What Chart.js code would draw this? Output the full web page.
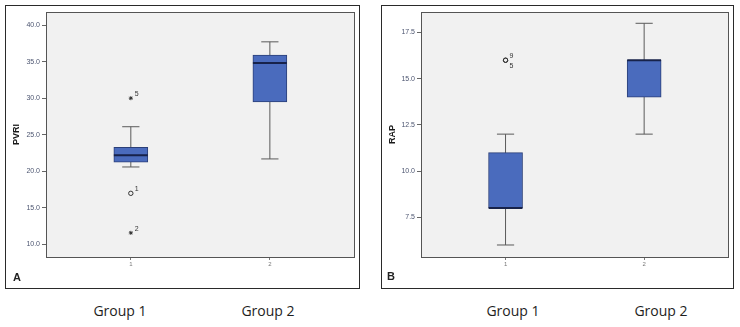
<!DOCTYPE html>
<html>
<head>
<meta charset="utf-8">
<script src="https://cdn.jsdelivr.net/npm/chart.js@4"></script>
<style>
  body { margin: 0; background: #fff; width: 740px; height: 327px; position: relative; overflow: hidden; }
  .panel { position: absolute; border: 1px solid #2a2a2a; }
  .panel canvas { display: block; }
  .tag { position: absolute; font: bold 11px "Liberation Sans", Arial, sans-serif; color: #222; line-height: 11px; }
  .grp { position: absolute; width: 100px; text-align: center; font: 14px "Open Sans", sans-serif; color: #1e1e1e; line-height: 14px; }
</style>
</head>
<body>
<div class="panel" style="left:5px; top:5px;"><canvas id="chartA" width="353" height="282"></canvas></div>
<div class="panel" style="left:381px; top:5px;"><canvas id="chartB" width="351" height="282"></canvas></div>
<div class="tag" style="left:13px; top:272px;">A</div>
<div class="tag" style="left:387px; top:271px;">B</div>
<div class="grp" style="left:70px; top:304px;">Group 1</div>
<div class="grp" style="left:218px; top:304px;">Group 2</div>
<div class="grp" style="left:463px; top:304px;">Group 1</div>
<div class="grp" style="left:611px; top:304px;">Group 2</div>
<script>
const groups = [1, 2];

// A - PVRI
const pvriMin = [20.6, 21.7];
const pvriQ1 = [21.25, 29.5];
const pvriMedian = [22.2, 34.8];
const pvriQ3 = [23.3, 35.9];
const pvriMax = [26.1, 37.7];
const pvriOutGroup = [1, 1, 1];
const pvriOutValue = [30.0, 17.0, 11.6];
const pvriOutKind = ['extreme', 'outlier', 'extreme'];
const pvriOutCase = ['5', '1', '2'];
const pvriTicks = [10, 15, 20, 25, 30, 35, 40];

// B - RAP
const rapMin = [6.0, 12.0];
const rapQ1 = [8.0, 14.0];
const rapMedian = [8.0, 16.0];
const rapQ3 = [11.0, 16.0];
const rapMax = [12.0, 18.0];
const rapOutGroup = [1, 1];
const rapOutValue = [16.0, 16.0];
const rapOutKind = ['outlier', 'outlier'];
const rapOutCase = ['9', '5'];
const rapTicks = [7.5, 10, 12.5, 15, 17.5];

const BOX_HALF = 0.122;
const CAP_HALF = 0.062;
const FONT = '"Liberation Sans", Arial, sans-serif';

function segs(lo, hi, half) {
    // horizontal segments (half > 0) or vertical ones (half == 0), split with null
    let pts = [];
    groups.forEach(function(g, i) {
        pts.push({x: g - half, y: lo[i]}, {x: g + half, y: half ? lo[i] : hi[i]}, {x: g, y: null});
        if (half) pts.push({x: g - half, y: hi[i]}, {x: g + half, y: hi[i]}, {x: g, y: null});
    });
    return pts;
}

function lineSet(data, color, width, order) {
    return {type: 'line', data: data, borderColor: color, borderWidth: width,
        pointRadius: 0, spanGaps: false, fill: false, tension: 0, order: order};
}

const framePlugin = {
    id: 'frame',
    beforeDraw(chart) {
        const a = chart.chartArea, c = chart.ctx;
        c.save();
        c.fillStyle = '#f1f1f1';
        c.fillRect(a.left, a.top, a.right - a.left, a.bottom - a.top);
        c.restore();
    },
    afterDraw(chart) {
        const a = chart.chartArea, c = chart.ctx;
        c.save();
        c.strokeStyle = '#555';
        c.lineWidth = 1;
        c.strokeRect(Math.round(a.left) + 0.5, Math.round(a.top) + 0.5,
            Math.round(a.right - a.left), Math.round(a.bottom - a.top));
        c.restore();
    }
};

function caseLabels(outGroup, outValue, outCase) {
    return {
        id: 'caseLabels',
        afterDatasetsDraw(chart) {
            const c = chart.ctx, xs = chart.scales.x, ys = chart.scales.y;
            c.save();
            c.font = '7px ' + FONT;
            c.fillStyle = '#333';
            outCase.forEach(function(lbl, i) {
                const px = xs.getPixelForValue(outGroup[i]);
                const py = ys.getPixelForValue(outValue[i]);
                let dup = false;
                for (let j = 0; j < i; j++) {
                    if (outGroup[j] === outGroup[i] && outValue[j] === outValue[i]) dup = true;
                }
                c.fillText(lbl, px + 4, dup ? py + 8 : py - 2);
            });
            c.restore();
        }
    };
}

function makeBoxChart(id, title, lo, q1, med, q3, hi, outGroup, outValue, outKind, outCase, ticks, yMin, yMax, padRight, padTop, yWidth) {
    let ctx = document.getElementById(id).getContext('2d');
    new Chart(ctx, {
        type: 'bar',
        data: {
            datasets: [
                lineSet(segs(lo, hi, 0), '#5a5a5a', 1, 4),
                lineSet(segs(lo, hi, CAP_HALF), '#5a5a5a', 1, 4),
                {
                    type: 'bar',
                    data: groups.map(function(g, i) { return {x: g, y: [q1[i], q3[i]]}; }),
                    backgroundColor: '#4a6bbd',
                    borderColor: '#2b3f78',
                    borderWidth: 1,
                    borderSkipped: false,
                    barThickness: 34,
                    order: 3
                },
                lineSet(segs(med, med, BOX_HALF), '#17224a', 2, 2),
                {
                    type: 'line',
                    showLine: false,
                    data: outValue.map(function(v, i) { return {x: outGroup[i], y: v}; }),
                    pointStyle: outKind.map(function(k) { return k === 'extreme' ? 'star' : 'circle'; }),
                    pointRadius: outKind.map(function(k) { return k === 'extreme' ? 2 : 2.2; }),
                    pointBorderColor: '#333',
                    pointBackgroundColor: 'rgba(0,0,0,0)',
                    pointBorderWidth: 1,
                    order: 1
                }
            ]
        },
        options: {
            responsive: false,
            animation: false,
            layout: {padding: {left: 0, right: padRight, top: padTop, bottom: 0}},
            plugins: {legend: {display: false}, tooltip: {enabled: false}},
            scales: {
                x: {
                    type: 'linear',
                    min: 0.39,
                    max: 2.605,
                    offset: false,
                    afterBuildTicks: function(axis) { axis.ticks = groups.map(function(g) { return {value: g}; }); },
                    afterFit: function(axis) { axis.height = 31; },
                    ticks: {font: {size: 6, family: FONT}, color: '#777', padding: 1,
                        callback: function(v) { return String(v); }},
                    grid: {drawOnChartArea: false, drawTicks: true, tickLength: 3, color: '#777', offset: false},
                    border: {display: false}
                },
                y: {
                    min: yMin,
                    max: yMax,
                    afterBuildTicks: function(axis) { axis.ticks = ticks.map(function(v) { return {value: v}; }); },
                    afterFit: function(axis) { axis.width = yWidth; },
                    ticks: {font: {size: 7, family: FONT}, color: '#4c5570', padding: 2,
                        callback: function(v) { return v.toFixed(1); }},
                    grid: {drawOnChartArea: false, drawTicks: true, tickLength: 4, color: '#666'},
                    border: {display: false},
                    title: {display: true, text: title, color: '#1a1a1a',
                        font: {size: 9, weight: 'bold', family: FONT}, padding: {top: 5, bottom: 0}}
                }
            }
        },
        plugins: [framePlugin, caseLabels(outGroup, outValue, outCase)]
    });
}

makeBoxChart('chartA', 'PVRI', pvriMin, pvriQ1, pvriMedian, pvriQ3, pvriMax,
    pvriOutGroup, pvriOutValue, pvriOutKind, pvriOutCase, pvriTicks, 8.3, 41.75, 5, 3, 40);
makeBoxChart('chartB', 'RAP', rapMin, rapQ1, rapMedian, rapQ3, rapMax,
    rapOutGroup, rapOutValue, rapOutKind, rapOutCase, rapTicks, 5.35, 18.6, 4, 4, 39);
</script>
</body>
</html>
